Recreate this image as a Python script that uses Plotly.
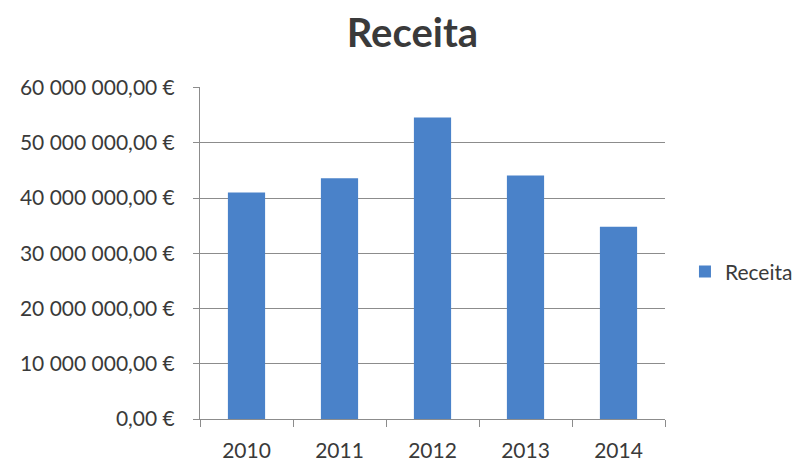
import plotly.graph_objects as go

years = ["2010", "2011", "2012", "2013", "2014"]
receita = [41000000, 43600000, 54600000, 44100000, 34800000]
tick_vals = [0, 10000000, 20000000, 30000000, 40000000, 50000000, 60000000]
tick_text = ["0,00 €", "10 000 000,00 €", "20 000 000,00 €", "30 000 000,00 €",
             "40 000 000,00 €", "50 000 000,00 €", "60 000 000,00 €"]

FONT = "Lato"
TXT = "#3a3a3a"
fig = go.Figure()
fig.add_trace(go.Bar(
    x=years, y=receita, name="Receita",
    marker=dict(color="#4a82c9", line=dict(width=0)),
    width=0.4, showlegend=True,
))
fig.update_layout(
    width=804, height=462,
    margin=dict(l=192, r=147, t=79, b=51, autoexpand=False),
    paper_bgcolor="white", plot_bgcolor="white",
    title=dict(text="<b>Receita</b>", x=0.503, xanchor="center", y=0.945, yanchor="middle",
               font=dict(family=FONT, size=40, color=TXT)),
    font=dict(family=FONT, color=TXT),
    showlegend=True,
    legend=dict(xref="container", yref="container", x=0.842, xanchor="left",
                y=0.429, yanchor="middle", itemwidth=30,
                font=dict(family=FONT, size=21, color=TXT),
                bgcolor="rgba(0,0,0,0)"),
)
fig.update_yaxes(range=[0, 60100000], tickvals=tick_vals, ticktext=tick_text,
                 showgrid=True, gridcolor="#8c8c8c", gridwidth=1,
                 showline=True, linecolor="#8c8c8c", linewidth=1,
                 ticks="outside", ticklen=6, tickcolor="#8c8c8c",
                 ticklabelstandoff=14, automargin=False,
                 tickfont=dict(family=FONT, size=21, color=TXT),
                 zeroline=False, fixedrange=True)
fig.update_xaxes(showline=True, linecolor="#8c8c8c", linewidth=1,
                 ticks="outside", tickson="boundaries", ticklen=7, tickcolor="#8c8c8c",
                 ticklabelstandoff=13, automargin=False,
                 tickfont=dict(family=FONT, size=21, color=TXT),
                 showgrid=False, fixedrange=True)
fig.write_html("out.html")
